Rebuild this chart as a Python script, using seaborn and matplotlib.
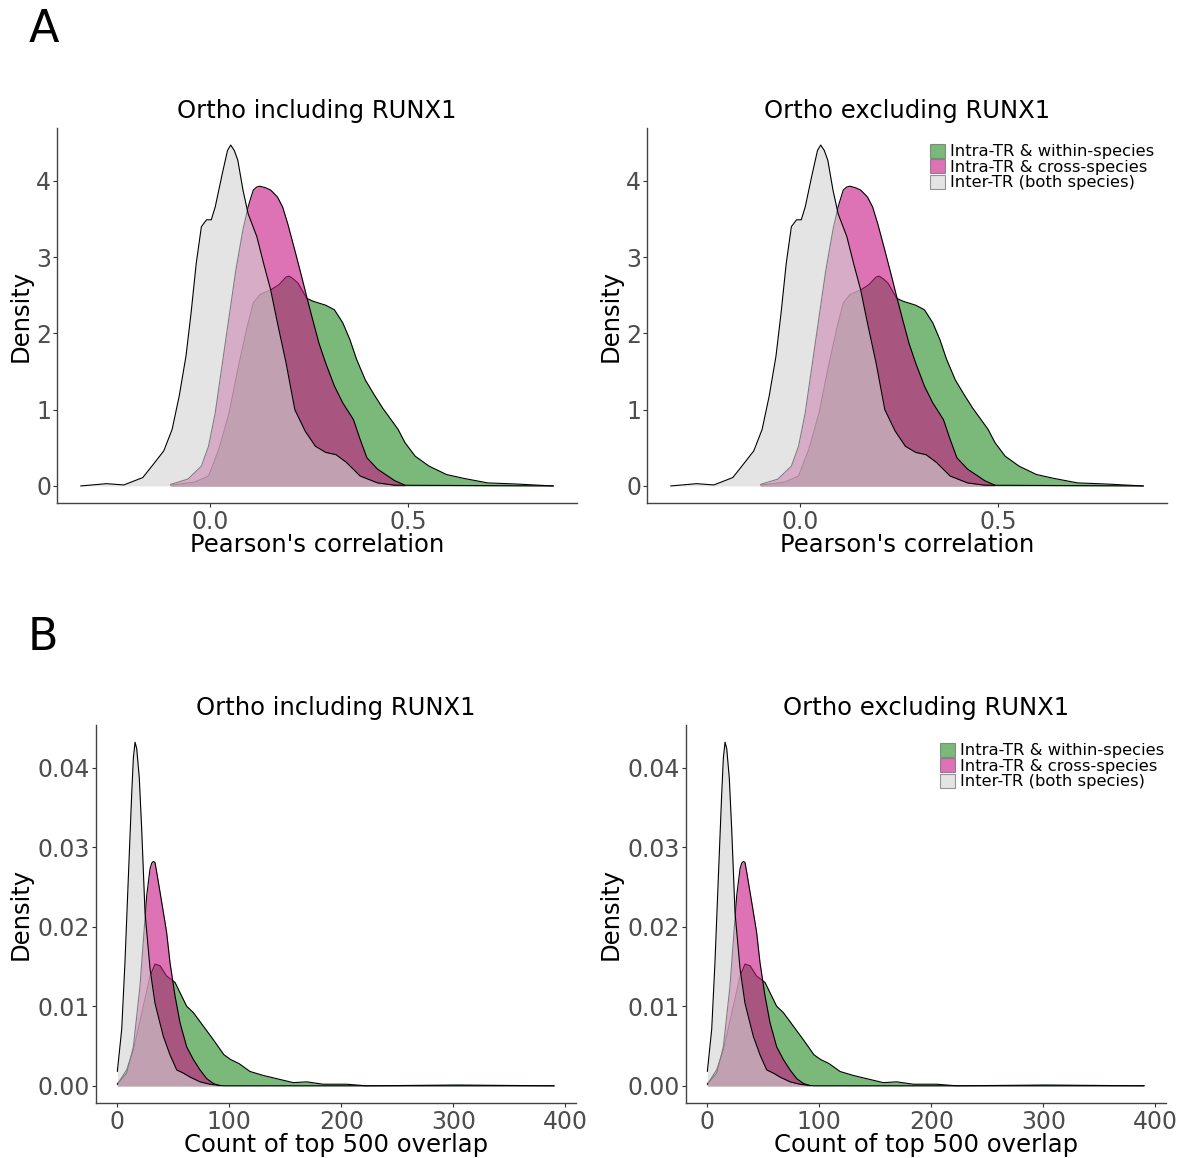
import numpy as np
import pandas as pd
import matplotlib
matplotlib.use("Agg")
import matplotlib.pyplot as plt
from matplotlib.patches import Patch
import seaborn as sns

# ---------------- data ----------------
series_names = ["Intra-TR & within-species", "Intra-TR & cross-species", "Inter-TR (both species)"]
series_colors = ["forestgreen", "mediumvioletred", "lightgrey"]

# Panel A: Pearson's correlation densities
corr_within_x = [-0.101, -0.040, -0.005, 0.021, 0.047, 0.069, 0.091, 0.108, 0.125, 0.152, 0.173, 0.191,
                 0.199, 0.208, 0.221, 0.243, 0.260, 0.291, 0.313, 0.334, 0.352, 0.369, 0.391, 0.413,
                 0.435, 0.456, 0.474, 0.491, 0.517, 0.552, 0.596, 0.639, 0.700, 0.770, 0.866]
corr_within_d = [0.01, 0.05, 0.13, 0.48, 0.96, 1.53, 2.05, 2.40, 2.51, 2.57, 2.64, 2.74,
                 2.75, 2.72, 2.66, 2.46, 2.42, 2.37, 2.31, 2.14, 1.92, 1.66, 1.39, 1.20,
                 1.02, 0.87, 0.74, 0.57, 0.39, 0.26, 0.15, 0.10, 0.04, 0.026, 0.0]

corr_cross_x = [-0.101, -0.057, -0.023, -0.005, 0.012, 0.030, 0.047, 0.064, 0.082, 0.095, 0.108, 0.117,
                0.125, 0.139, 0.152, 0.169, 0.182, 0.195, 0.213, 0.230, 0.243, 0.256, 0.274, 0.291,
                0.313, 0.334, 0.361, 0.378, 0.395, 0.422, 0.448, 0.465, 0.491]
corr_cross_d = [0.02, 0.09, 0.26, 0.52, 0.96, 1.61, 2.22, 2.83, 3.36, 3.66, 3.88, 3.92,
                3.93, 3.91, 3.88, 3.79, 3.66, 3.44, 3.09, 2.75, 2.48, 2.22, 1.87, 1.61,
                1.31, 1.09, 0.87, 0.61, 0.37, 0.22, 0.13, 0.07, 0.01]

corr_inter_x = [-0.328, -0.262, -0.219, -0.171, -0.145, -0.118, -0.097, -0.079, -0.062, -0.049, -0.036,
                -0.023, -0.010, 0.002, 0.012, 0.030, 0.043, 0.051, 0.060, 0.069, 0.082, 0.095, 0.117,
                0.134, 0.152, 0.169, 0.191, 0.213, 0.239, 0.265, 0.291, 0.317, 0.343, 0.378, 0.422,
                0.465, 0.866]
corr_inter_d = [0.0, 0.03, 0.013, 0.11, 0.28, 0.46, 0.74, 1.18, 1.70, 2.27, 2.92,
                3.40, 3.49, 3.49, 3.66, 4.10, 4.40, 4.47, 4.40, 4.27, 3.88, 3.57, 3.27,
                2.92, 2.57, 2.14, 1.61, 1.00, 0.72, 0.52, 0.44, 0.41, 0.31, 0.13, 0.04,
                0.01, 0.0]

# Panel B: count of top 500 overlap densities
count_within_x = [0, 8.3, 14.3, 23.2, 29.2, 33.6, 38.1, 44.0, 51.5, 56.0, 61.9, 67.9, 76.8, 85.7,
                  95.2, 101.2, 108.6, 118.5, 130.4, 145.2, 157.1, 169.0, 183.9, 204.8, 222.6, 303, 390]
count_within_d = [0.0002, 0.0020, 0.0045, 0.0100, 0.0138, 0.0153, 0.0151, 0.0138, 0.0130, 0.0117,
                  0.0100, 0.0092, 0.0075, 0.0058, 0.0039, 0.0033, 0.0028, 0.0018, 0.0013, 0.0008,
                  0.0004, 0.0005, 0.0002, 0.0002, 0.0, 0.0001, 0.0]

count_cross_x = [0, 8.3, 14.3, 20.2, 26.2, 29.2, 30.7, 32.1, 33.6, 35.1, 39.6, 44.0, 47.0, 51.5,
                 56.0, 61.9, 67.9, 73.8, 79.8, 85.7, 91.7]
count_cross_d = [0.0002, 0.0016, 0.0049, 0.0125, 0.0239, 0.0273, 0.0280, 0.0282, 0.0281, 0.0269,
                 0.0231, 0.0193, 0.0155, 0.0113, 0.0079, 0.0049, 0.0033, 0.0020, 0.0009, 0.0003, 0.0]

count_inter_x = [0, 3.9, 6.8, 9.8, 12.8, 14.3, 15.8, 17.3, 19.6, 21.7, 24.7, 29.2, 33.6, 36.6,
                 41.1, 47.0, 53.0, 58.9, 64.9, 73.8, 82.7, 94.6, 390]
count_inter_d = [0.0018, 0.0071, 0.0155, 0.0261, 0.0366, 0.0412, 0.0432, 0.0424, 0.0387, 0.0324,
                 0.0218, 0.0147, 0.0104, 0.0087, 0.0062, 0.0039, 0.0020, 0.0016, 0.0011, 0.0005,
                 0.0002, 0.0, 0.0]

panel_titles = ["Ortho including RUNX1", "Ortho excluding RUNX1"]
xlabel_A = "Pearson's correlation"
xlabel_B = "Count of top 500 overlap"
xticks_A = [0.0, 0.5]
xticklabels_A = ["0.0", "0.5"]
yticks_A = [0, 1, 2, 3, 4]
xticks_B = [0, 100, 200, 300, 400]
yticks_B = [0.00, 0.01, 0.02, 0.03, 0.04]
yticklabels_B = ["0.00", "0.01", "0.02", "0.03", "0.04"]

# ---------------- styling ----------------
sns.set_theme(style="ticks")
plt.rcParams['font.family'] = ['DejaVu Sans']
plt.rcParams['text.color'] = 'black'
plt.rcParams['axes.labelcolor'] = 'black'
plt.rcParams['axes.titlecolor'] = 'black'

W, H = 1192, 1158
fig = plt.figure(figsize=(W / 100, H / 100), dpi=100)

ALPHA = 0.6
TICK_FS = 17
LABEL_FS = 17.5
TITLE_FS = 17.5


def px_axes(x0, y0, x1, y1):
    return fig.add_axes([x0 / W, 1 - y1 / H, (x1 - x0) / W, (y1 - y0) / H])


def draw_panel(ax, series, xticks, xticklabels, yticks, yticklabels, title, xlabel,
               ylab_x, xlab_y):
    all_x = np.concatenate([np.asarray(s[0], float) for s in series])
    all_d = np.concatenate([np.asarray(s[1], float) for s in series])
    for i, ((xs, ds), col) in enumerate(zip(series, series_colors)):
        df = pd.DataFrame({"x": xs, "d": ds})
        ax.fill_between(df["x"], df["d"], 0, color=col, alpha=ALPHA, linewidth=0,
                        zorder=1 + 2 * i)
        sns.lineplot(data=df, x="x", y="d", ax=ax, color="black", linewidth=0.8,
                     sort=False, estimator=None, zorder=2 + 2 * i)
    xr = all_x.max() - all_x.min()
    ax.set_xlim(all_x.min() - 0.05 * xr, all_x.max() + 0.05 * xr)
    yr = all_d.max()
    ax.set_ylim(-0.05 * yr, yr * 1.05)
    ax.set_xticks(xticks)
    ax.set_xticklabels(xticklabels)
    ax.set_yticks(yticks)
    ax.set_yticklabels(yticklabels)
    sns.despine(ax=ax)
    for sp in ["left", "bottom"]:
        ax.spines[sp].set_color("#444444")
        ax.spines[sp].set_linewidth(1.0)
    ax.tick_params(axis="both", colors="#333333", labelcolor="#4D4D4D", labelsize=TICK_FS,
                   length=2.75, width=0.8)
    ax.tick_params(axis="x", pad=2.0)
    ax.tick_params(axis="y", pad=1.5)
    ax.set_xlabel(xlabel, fontsize=LABEL_FS, color="black")
    ax.set_ylabel("Density", fontsize=LABEL_FS, color="black")
    ax.yaxis.set_label_coords(ylab_x, 0.5)
    ax.xaxis.set_label_coords(0.5, xlab_y)
    ax.set_title(title, fontsize=TITLE_FS, pad=7, color="black")


series_A = [(corr_within_x, corr_within_d), (corr_cross_x, corr_cross_d), (corr_inter_x, corr_inter_d)]
series_B = [(count_within_x, count_within_d), (count_cross_x, count_cross_d), (count_inter_x, count_inter_d)]

axA1 = px_axes(57, 128, 577, 503)
axA2 = px_axes(647, 128, 1167, 503)
axB1 = px_axes(95.5, 725, 576, 1103)
axB2 = px_axes(685.5, 725, 1166, 1103)

for ax, t in zip([axA1, axA2], panel_titles):
    draw_panel(ax, series_A, xticks_A, xticklabels_A, yticks_A, [str(v) for v in yticks_A],
               t, xlabel_A, (33 - 57) / 520, (503 - 533) / 375)
for ax, t in zip([axB1, axB2], panel_titles):
    draw_panel(ax, series_B, xticks_B, [str(v) for v in xticks_B], yticks_B, yticklabels_B,
               t, xlabel_B, (33 - 95.5) / 480.5, (1103 - 1133) / 378)

handles = [Patch(facecolor=c, alpha=ALPHA, edgecolor="#555555", linewidth=0.8) for c in series_colors]
for ax, (lx, ly) in zip([axA2, axB2], [(930, 144), (940, 743)]):
    fig.legend(handles, series_names, loc="upper left",
               bbox_to_anchor=(lx / W, 1 - ly / H), frameon=False, fontsize=11.8,
               handlelength=0.9, handleheight=0.9, handletextpad=0.3, labelspacing=0.0,
               borderpad=0, borderaxespad=0)

fig.text(44 / W, 1 - 30 / H, "A", fontsize=32, ha="center", va="center", color="black")
fig.text(43 / W, 1 - 637 / H, "B", fontsize=32, ha="center", va="center", color="black")

fig.savefig("out.png", dpi=100)
